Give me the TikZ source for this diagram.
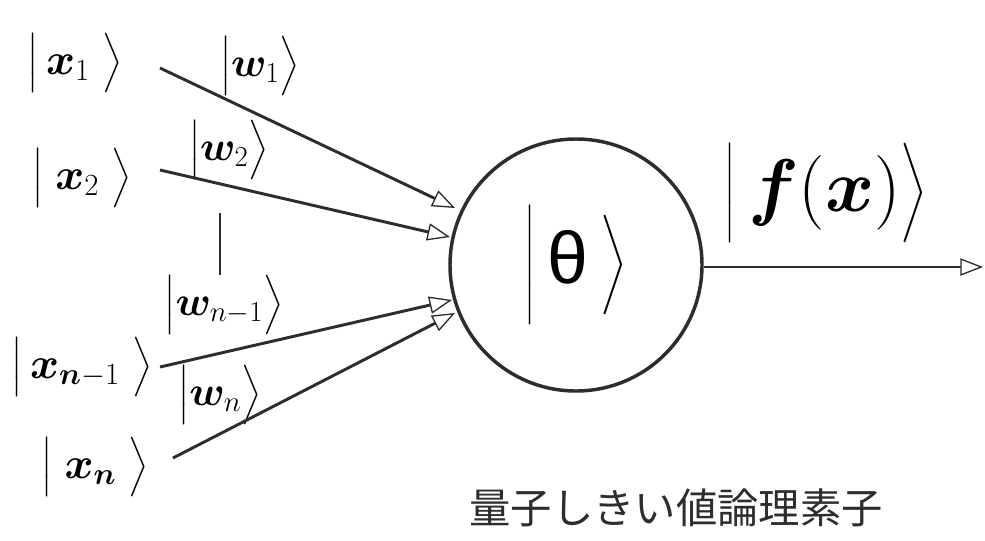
\RequirePackage{fix-cm}
\documentclass[tikz,border=0pt]{standalone}
\usepackage{amsmath}
\usepackage{bm}
\usepackage{fontspec}
\newfontfamily\cjk{Noto Sans CJK JP}
\newfontfamily\greekfont{Liberation Sans}
\usetikzlibrary{arrows.meta}
\definecolor{inkc}{RGB}{45,45,45}
\newcommand\kt[2]{$\delimitershortfall=0pt\delimiterfactor=1000\left|\vcenter{\hbox{\rule{0pt}{#1}}}#2\right\rangle$}
\tikzset{
  ink/.style={draw=inkc, line width=2.2pt},
  inarrow/.style={ink, -{Triangle[open, length=17pt, width=13pt, line width=1pt]}},
  ketlabel/.style={inner sep=0pt, text=black, font=\fontsize{33}{38}\selectfont},
  wlabel/.style={inner sep=0pt, text=black, font=\fontsize{31}{36}\selectfont},
  neuron/.style={draw=inkc, line width=2.6pt, circle, minimum size=189pt, inner sep=0pt},
}
\begin{document}
\begin{tikzpicture}[x=0.75pt,y=-0.75pt]
\path[use as bounding box, fill=white] (0,0) rectangle (985,540);
% inputs
\node[ketlabel] (x1) at (75,63) {\kt{42pt}{\,\bm{x}_1\;}};
\node[ketlabel] (x2) at (82,178) {\kt{44pt}{\;\bm{x}_2\;}};
\node[ketlabel] (xn1) at (82,367) {\kt{44pt}{\,\bm{x}_{\bm{n}-1}\;}};
\node[ketlabel] (xn) at (95,467) {\kt{42pt}{\;\bm{x}_{\bm{n}}\;}};
% weights
\node[wlabel] (w1) at (260,66) {\kt{40pt}{\bm{w}_1}};
\node[wlabel] (w2) at (229,150) {\kt{34pt}{\bm{w}_2}};
\node[wlabel] (wn1) at (224,305) {\kt{34pt}{\bm{w}_{n-1}}};
\node[wlabel] (wn) at (220,395) {\kt{34pt}{\bm{w}_n}};
% neuron
\node[neuron] (n) at (576,265) {\fontsize{55}{60}\selectfont\kt{82pt}{\,\hbox{\greekfont θ}\,}};
% output label
\node[inner sep=0pt, font=\fontsize{56}{62}\selectfont] (fx) at (826,193) {\kt{64pt}{\,\bm{f}(\bm{x})}};
% caption
\node[inner sep=0pt, text=inkc, font=\fontsize{31}{36}\selectfont] (cap) at (676,508) {\cjk 量子しきい値論理素子};
% coordinates
\coordinate (s1) at (160,68);
\coordinate (s2) at (160,170);
\coordinate (s3) at (160,367);
\coordinate (s4) at (173,458);
\coordinate (e1) at (455,208);
\coordinate (e2) at (450,237);
\coordinate (e3) at (452,300);
\coordinate (e4) at (455,313);
\coordinate (v1) at (220,213);
\coordinate (v2) at (220,275);
\coordinate (out) at (983,267);
% connectors
\draw[inarrow] (s1) -- (e1);
\draw[inarrow] (s2) -- (e2);
\draw[inarrow] (s3) -- (e3);
\draw[inarrow] (s4) -- (e4);
\draw[inarrow] (n.east |- out) -- (out);
\draw[ink] (v1) -- (v2);
\end{tikzpicture}
\end{document}
